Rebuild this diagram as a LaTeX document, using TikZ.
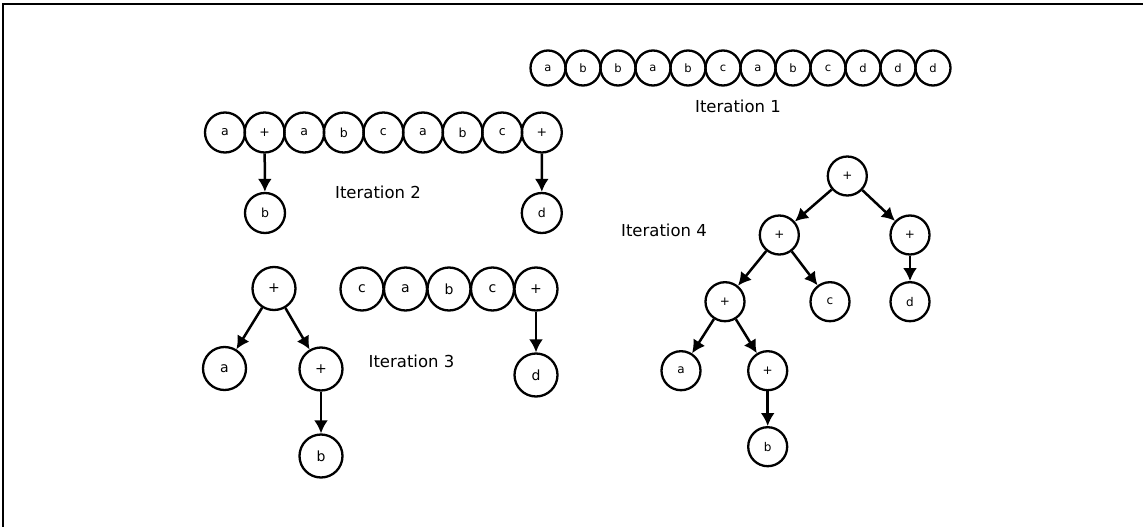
\documentclass[tikz,border=0pt]{standalone}
\usepackage{fontspec}
\setmainfont{DejaVu Sans}
\usetikzlibrary{arrows.meta}
\begin{document}
\begin{tikzpicture}[x=1pt,y=-1pt,
  nd/.style={circle,draw,line width=2.3pt,inner sep=0pt,minimum size=#1},
  edge/.style={line width=2.5pt,-{Latex[length=13pt,width=14pt]}},
  lbl/.style={font=\fontsize{16.5}{18}\selectfont}]
\useasboundingbox (0,0) rectangle (1143,527);
% frame
\draw[line width=1.5pt] (3,527) -- (3,4) -- (1143,4);

% Iteration 1: the input sequence
\foreach \t [count=\i] in {a,b,b,a,b,c,a,b,c,d,d,d}
  \node[nd=35pt,font=\fontsize{11.5}{12}\selectfont] (p\i) at ({548+35*(\i-1)},68) {\t};
\node[lbl] (t1) at (738,106) {Iteration 1};

% Iteration 2
\foreach \t [count=\i] in {a,+,a,b,c,a,b,c,+}
  \node[nd=40pt,font=\fontsize{12.5}{13}\selectfont] (q\i) at ({225+39.6*(\i-1)},132.5) {\t};
\node[nd=40pt,font=\fontsize{12.5}{13}\selectfont] (qb) at (265,213) {b};
\node[nd=40pt,font=\fontsize{12.5}{13}\selectfont] (qd) at (541.8,213) {d};
\draw[edge] (q2) -- (qb);
\draw[edge] (q9) -- (qd);
\node[lbl] (t2) at (378,192) {Iteration 2};

% Iteration 3
\begin{scope}[every node/.append style={font=\fontsize{14}{15}\selectfont}]
  \node[nd=43pt] (r0) at (274,288.5) {+};
  \node[nd=43pt] (ra) at (224.5,368.5) {a};
  \node[nd=43pt] (rp) at (321,369) {+};
  \node[nd=43pt] (rb) at (321,456) {b};
  \foreach \t [count=\i] in {c,a,b,c,+}
    \node[nd=43pt] (s\i) at ({362+43.5*(\i-1)},289) {\t};
  \node[nd=43pt] (sd) at (536,375) {d};
\end{scope}
\draw[edge] (r0) -- (ra);
\draw[edge] (r0) -- (rp);
\draw[edge] (rp) -- (rb);
\draw[edge] (s5) -- (sd);
\node[lbl] (t3) at (411.5,361.5) {Iteration 3};

% Iteration 4
\begin{scope}[every node/.append style={font=\fontsize{12}{13}\selectfont}]
  \node[nd=39pt] (u0) at (847.3,176) {+};
  \node[nd=39pt] (u1) at (779.3,235) {+};
  \node[nd=39pt] (u2) at (910,235) {+};
  \node[nd=39pt] (u3) at (725,301.7) {+};
  \node[nd=39pt] (uc) at (830,301.7) {c};
  \node[nd=39pt] (ud) at (910,301.7) {d};
  \node[nd=39pt] (ua) at (681,370.7) {a};
  \node[nd=39pt] (u4) at (767.7,370.7) {+};
  \node[nd=39pt] (ub) at (767.7,446.7) {b};
\end{scope}
\draw[edge] (u0) -- (u1);
\draw[edge] (u0) -- (u2);
\draw[edge] (u1) -- (u3);
\draw[edge] (u1) -- (uc);
\draw[edge] (u2) -- (ud);
\draw[edge] (u3) -- (ua);
\draw[edge] (u3) -- (u4);
\draw[edge] (u4) -- (ub);
\node[lbl] (t4) at (664,230) {Iteration 4};
\end{tikzpicture}
\end{document}
